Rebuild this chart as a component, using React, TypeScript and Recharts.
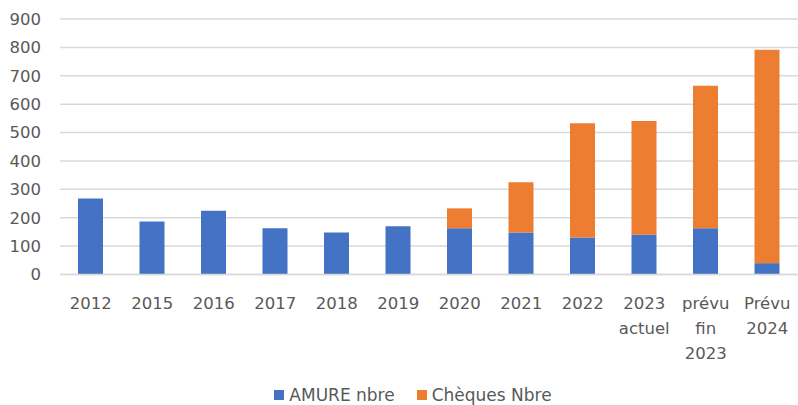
import { Bar, BarChart, CartesianGrid, Legend, XAxis, YAxis } from "recharts";

const categories = [
  "2012",
  "2015",
  "2016",
  "2017",
  "2018",
  "2019",
  "2020",
  "2021",
  "2022",
  "2023\nactuel",
  "prévu\nfin\n2023",
  "Prévu\n2024",
];
const amure = [268, 187, 225, 163, 148, 170, 163, 148, 130, 140, 163, 40];
const cheques = [0, 0, 0, 0, 0, 0, 70, 177, 403, 401, 502, 752];
const yTicks = [0, 100, 200, 300, 400, 500, 600, 700, 800, 900];

const BLUE = "#4472C4";
const ORANGE = "#ED7D31";
const FONT = "'DejaVu Sans', sans-serif";

const data = categories.map((c, i) => ({
  name: c,
  amure: amure[i],
  cheques: cheques[i],
}));

function XTick(props: any) {
  const { x, y, payload } = props;
  const lines = String(payload.value).split("\n");
  return (
    <text
      x={x}
      y={y}
      textAnchor="middle"
      fill="#595959"
      fontSize={16.5}
      fontFamily={FONT}
    >
      {lines.map((l, i) => (
        <tspan key={i} x={x} dy={i === 0 ? 32 : 25}>
          {l}
        </tspan>
      ))}
    </text>
  );
}

function LegendBox() {
  const items = [
    { label: "AMURE nbre", color: BLUE },
    { label: "Chèques Nbre", color: ORANGE },
  ];
  return (
    <div
      style={{
        height: 30,
        display: "flex",
        justifyContent: "center",
        alignItems: "flex-start",
        paddingTop: 11,
        paddingLeft: 28,
        boxSizing: "border-box",
        gap: 22,
        fontFamily: FONT,
        fontSize: 17,
        color: "#595959",
        lineHeight: "18px",
      }}
    >
      {items.map((it) => (
        <div key={it.label} style={{ display: "flex", alignItems: "center" }}>
          <span
            style={{
              display: "inline-block",
              width: 10,
              height: 10,
              background: it.color,
              marginRight: 5,
            }}
          />
          {it.label}
        </div>
      ))}
    </div>
  );
}

export default function App() {
  return (
    <div style={{ position: "absolute", left: 0, top: 0, background: "#fff" }}>
      <BarChart
        width={798}
        height={405}
        data={data}
        margin={{ top: 19, right: 0, left: 0, bottom: 0 }}
        barCategoryGap={0}
      >
        <CartesianGrid vertical={false} stroke="#d9d9d9" strokeWidth={1.5} />
        <XAxis
          dataKey="name"
          interval={0}
          height={100.5}
          tickLine={false}
          tickSize={0}
          axisLine={{ stroke: "#d9d9d9", strokeWidth: 1.5 }}
          tick={<XTick />}
        />
        <YAxis
          width={60}
          domain={[0, 900]}
          ticks={yTicks}
          axisLine={false}
          tickLine={false}
          tickSize={0}
          tickMargin={19}
          tick={{ fill: "#595959", fontSize: 16.5, fontFamily: FONT }}
        />
        <Legend verticalAlign="bottom" content={<LegendBox />} />
        <Bar dataKey="amure" stackId="a" fill={BLUE} barSize={25} isAnimationActive={false} />
        <Bar dataKey="cheques" stackId="a" fill={ORANGE} barSize={25} isAnimationActive={false} />
      </BarChart>
    </div>
  );
}
